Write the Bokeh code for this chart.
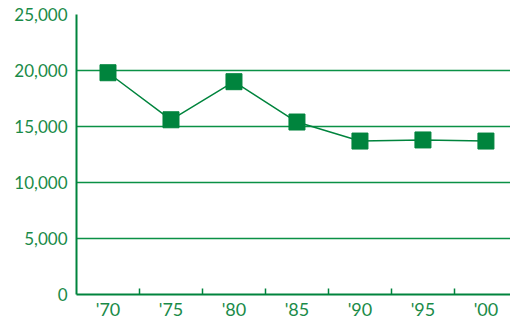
from bokeh.plotting import figure
from bokeh.models import Range1d, FixedTicker, NumeralTickFormatter
from bokeh.embed import file_html
from bokeh.resources import INLINE

years = ["'70", "'75", "'80", "'85", "'90", "'95", "'00"]
values = [19800, 15600, 19000, 15400, 13700, 13800, 13700]
y_ticks = [0, 5000, 10000, 15000, 20000, 25000]

GREEN = "#00843D"
GRID = "#0a9146"
TEXT = "#1a8b48"
FONT = "Lato"

xs = [i + 0.5 for i in range(len(years))]

p = figure(width=510, frame_width=434, frame_height=280,
           output_backend="svg", toolbar_location=None,
           x_range=Range1d(0, 6.89), y_range=Range1d(0, 25000),
           min_border_left=76, min_border_right=0, min_border_top=14, min_border_bottom=0)
p.outline_line_color = None
p.background_fill_color = "white"
p.border_fill_color = "white"

p.line(xs, values, line_color=GREEN, line_width=1.5)
p.scatter(xs, values, marker="square", size=16, fill_color=GREEN, line_color=GREEN)

# x axis
p.xaxis.ticker = FixedTicker(ticks=xs, minor_ticks=list(range(1, len(years))))
p.xaxis.major_label_overrides = {x: lab for x, lab in zip(xs, years)}
p.xaxis.major_tick_line_color = None
p.xaxis.major_tick_in = 0
p.xaxis.major_tick_out = 0
p.xaxis.minor_tick_in = 6
p.xaxis.minor_tick_out = 0
p.xaxis.minor_tick_line_color = GREEN
p.xaxis.minor_tick_line_width = 1.5
p.xaxis.axis_line_color = GREEN
p.xaxis.axis_line_width = 2
p.xaxis.major_label_text_color = TEXT
p.xaxis.major_label_text_font = FONT
p.xaxis.major_label_text_font_size = "18px"
p.xaxis.major_label_standoff = 3
p.xgrid.grid_line_color = None

# y axis
p.yaxis.ticker = FixedTicker(ticks=y_ticks)
p.yaxis.formatter = NumeralTickFormatter(format="0,0")
p.yaxis.major_tick_line_color = None
p.yaxis.major_tick_in = 0
p.yaxis.major_tick_out = 0
p.yaxis.minor_tick_line_color = None
p.yaxis.axis_line_color = GREEN
p.yaxis.axis_line_width = 2
p.yaxis.major_label_text_color = TEXT
p.yaxis.major_label_text_font = FONT
p.yaxis.major_label_text_font_size = "17px"
p.yaxis.major_label_standoff = 9
p.ygrid.grid_line_color = GRID
p.ygrid.grid_line_width = 1.4
p.ygrid.grid_line_alpha = 1.0

open("out.html", "w").write(file_html(p, INLINE))
